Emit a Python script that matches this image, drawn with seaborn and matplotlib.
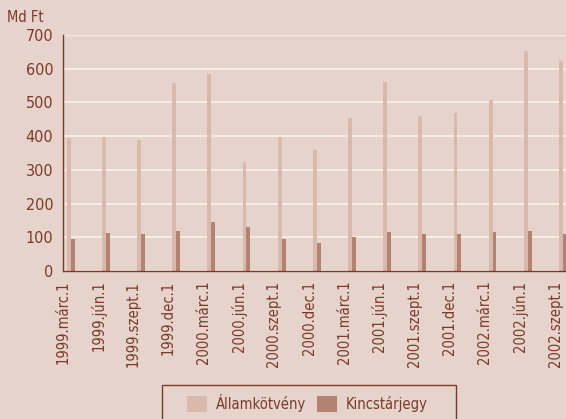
import pandas as pd
import matplotlib.pyplot as plt
import matplotlib.patches as mpatches
import seaborn as sns

# adatok (Md Ft), leolvasva az abrarol
datumok = ['1999.márc.1', '1999.jún.1', '1999.szept.1', '1999.dec.1',
           '2000.márc.1', '2000.jún.1', '2000.szept.1', '2000.dec.1',
           '2001.márc.1', '2001.jún.1', '2001.szept.1', '2001.dec.1',
           '2002.márc.1', '2002.jún.1', '2002.szept.1']
allamkotveny = [394, 397, 388, 557, 584, 323, 397, 358, 453, 560, 460, 469, 507, 653, 623]
kincstarjegy = [94, 112, 109, 118, 145, 130, 94, 82, 100, 115, 110, 110, 116, 119, 110]
sorozatok = ['Államkötvény', 'Kincstárjegy']

hatter = '#e6d3cc'
vilagos = '#d9b9ab'
sotet = '#b38372'
barna = '#7b3a28'

df = pd.DataFrame({
    'datum': datumok * 2,
    'ertek': allamkotveny + kincstarjegy,
    'sorozat': [sorozatok[0]] * len(datumok) + [sorozatok[1]] * len(datumok),
})

sns.set_style('white')
plt.rcParams['font.family'] = ['DejaVu Sans']
plt.rcParams['font.stretch'] = 'condensed'

fig = plt.figure(figsize=(5.66, 4.19), dpi=100, facecolor=hatter)
ax = fig.add_axes([63 / 566, 148 / 419, 503 / 566, 236 / 419])
ax.set_facecolor(hatter)

sns.barplot(data=df, x='datum', y='ertek', hue='sorozat', hue_order=sorozatok,
            order=datumok, palette=[vilagos, sotet], width=0.22, saturation=1,
            linewidth=0, ax=ax, zorder=3)

handles, labels = ax.get_legend_handles_labels()
ax.get_legend().remove()

ax.set_ylim(0, 700)
ax.set_xlim(-0.22, 14.09)
ax.set_yticks(range(0, 701, 100))
ax.set_xticks([i - 0.22 for i in range(len(datumok))])
ax.set_xticklabels(datumok, rotation=90, ha='center', va='top')
ax.set_xlabel('')
ax.set_ylabel('')

ax.yaxis.grid(True, color='#f7eeea', linewidth=1.3, zorder=0)
ax.set_axisbelow(True)
for s in ['top', 'right']:
    ax.spines[s].set_visible(False)
for s in ['left', 'bottom']:
    ax.spines[s].set_color(barna)
    ax.spines[s].set_linewidth(1.0)
    ax.spines[s].set_zorder(4)
ax.tick_params(axis='both', colors=barna, labelcolor=barna,
               length=4, width=1, direction='out', pad=3)
ax.tick_params(axis='y', labelsize=11.5)
ax.tick_params(axis='x', labelsize=10.5)

fig.text(7 / 566, 1 - 17 / 419, 'Md Ft', ha='left', va='center',
         fontsize=10.5, color=barna)

# jelmagyarazat kerettel
keret = mpatches.Rectangle((162 / 566, -0.05), 294 / 566, 0.05 + (419 - 385) / 419,
                           transform=fig.transFigure, facecolor=hatter,
                           edgecolor=barna, linewidth=1.0)
fig.add_artist(keret)
leg = fig.legend(handles, labels, loc='center', bbox_to_anchor=(0.543, 0.038),
                 ncol=2, frameon=False, fontsize=10.5, handlelength=1.35,
                 handleheight=1.35, handletextpad=0.6, columnspacing=0.8)
for t in leg.get_texts():
    t.set_color(barna)

fig.savefig('out.png', dpi=100, facecolor=hatter)
